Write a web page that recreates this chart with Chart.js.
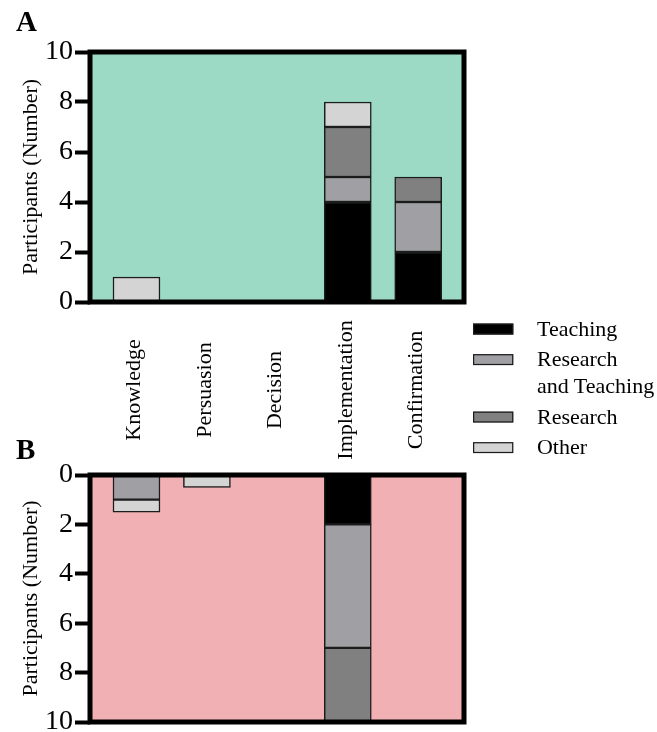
<!DOCTYPE html>
<html>
<head>
<meta charset="utf-8">
<script src="https://cdn.jsdelivr.net/npm/chart.js@4.4.1/dist/chart.umd.min.js"></script>
<style>
    html, body { margin: 0; padding: 0; background: #fff; width: 657px; height: 732px; overflow: hidden; }
    #wrap { position: relative; width: 657px; height: 732px; font-family: "Liberation Serif", serif; color: #000; }
    canvas { position: absolute; left: 0; }
    #chartA { top: 0; }
    #chartB { top: 430px; }
    .panel-tag { position: absolute; left: 16px; font-weight: bold; font-size: 29px; line-height: 29px; }
    /* legend laid out at 18px and scaled up to 22px */
    #legend { position: absolute; left: 473px; top: 315px; transform: scale(1.2222); transform-origin: 0 0; }
    .item { display: flex; align-items: flex-start; margin-bottom: 2.86px; font-size: 18px; line-height: 22.09px; white-space: nowrap; }
    .swatch { width: 32.73px; height: 9.82px; box-sizing: border-box; border: 1.64px solid #1c1c1c; margin-top: 6.55px; margin-right: 19.64px; flex: none; }
    .txt { white-space: pre-line; }
</style>
</head>
<body>
<div id="wrap">
    <canvas id="chartA" width="657" height="470"></canvas>
    <canvas id="chartB" width="657" height="312"></canvas>
    <div class="panel-tag" style="top:7px">A</div>
    <div class="panel-tag" style="top:435px">B</div>
    <div id="legend"></div>
</div>
<script>
// Categories and groups
const categories = ['Knowledge', 'Persuasion', 'Decision', 'Implementation', 'Confirmation'];
const seriesNames = ['Teaching', 'Research and Teaching', 'Research', 'Other'];
const seriesColors = ['#000000', '#a0a0a4', '#808080', '#d4d4d4'];
const yTicks = [0, 2, 4, 6, 8, 10];
const yTitle = 'Participants (Number)';

// Panel A (upwards)
const aTeaching = [0, 0, 0, 4, 2];
const aResearchTeaching = [0, 0, 0, 1, 2];
const aResearch = [0, 0, 0, 2, 1];
const aOther = [1, 0, 0, 1, 0];

// Panel B (downwards)
const bTeaching = [0, 0, 0, 2, 0];
const bResearchTeaching = [1, 0, 0, 5, 0];
const bResearch = [0, 0, 0, 3, 0];
const bOther = [0.5, 0.5, 0, 0, 0];

// text is set at 18px and scaled, the serif face renders reliably at that size
const baseFont = '18px "Liberation Serif", serif';
const BASE = 18;

function scaledText(ctx, text, x, y, size, rotate, align) {
    ctx.save();
    ctx.translate(x, y);
    if (rotate) ctx.rotate(-Math.PI / 2);
    ctx.scale(size / BASE, size / BASE);
    ctx.font = baseFont;
    ctx.fillStyle = '#000';
    ctx.textAlign = align;
    ctx.textBaseline = 'middle';
    ctx.fillText(text, 0, 0);
    ctx.restore();
}

// Fills the plot background and draws the heavy frame
const panelPlugin = {
    id: 'panel',
    beforeDraw(chart, args, opts) {
        const a = chart.chartArea;
        const ctx = chart.ctx;
        ctx.save();
        ctx.fillStyle = opts.color;
        ctx.fillRect(a.left, a.top, a.right - a.left, a.bottom - a.top);
        ctx.restore();
    },
    afterDatasetsDraw(chart) {
        const a = chart.chartArea;
        const ctx = chart.ctx;
        ctx.save();
        ctx.strokeStyle = '#000';
        ctx.lineWidth = 5;
        ctx.strokeRect(a.left, a.top, a.right - a.left, a.bottom - a.top);
        ctx.restore();
    }
};

// Y tick labels, y title and (panel A only) the rotated category names
const textPlugin = {
    id: 'serifText',
    afterDraw(chart, args, opts) {
        const ctx = chart.ctx;
        const a = chart.chartArea;
        const yScale = chart.scales.y;
        yTicks.forEach(v => {
            scaledText(ctx, String(v), a.left - 17, yScale.getPixelForValue(v), 28, false, 'right');
        });
        scaledText(ctx, yTitle, 31, (a.top + a.bottom) / 2, 22, true, 'center');

        if (!opts.showCategories) return;
        const xScale = chart.scales.x;
        categories.forEach((name, i) => {
            scaledText(ctx, name, xScale.getPixelForValue(i) - 2, a.bottom + 88, 22, true, 'center');
        });
    }
};

function makePanel(id, seriesData, bgColor, reverse, showCategories, padding) {
    return new Chart(document.getElementById(id), {
        type: 'bar',
        data: {
            labels: categories.map((_, i) => i),
            datasets: seriesData.map((values, i) => ({
                label: seriesNames[i],
                data: values,
                backgroundColor: seriesColors[i],
                borderColor: '#1c1c1c',
                borderWidth: 1.5,
                borderSkipped: false,
                barThickness: 47
            }))
        },
        options: {
            responsive: false,
            animation: false,
            layout: { padding: padding },
            scales: {
                x: {
                    type: 'linear',
                    display: false,
                    stacked: true,
                    offset: false,
                    min: -0.66,
                    max: 4.65
                },
                y: {
                    stacked: true,
                    reverse: reverse,
                    min: 0,
                    max: 10,
                    afterBuildTicks: scale => { scale.ticks = yTicks.map(v => ({ value: v })); },
                    afterFit: scale => { scale.width = 90; },
                    border: { display: false },
                    grid: {
                        drawOnChartArea: false,
                        drawTicks: true,
                        tickLength: 15,
                        tickWidth: 4,
                        tickColor: '#000'
                    },
                    ticks: { display: false },
                    title: { display: false }
                }
            },
            plugins: {
                legend: { display: false },
                tooltip: { enabled: false },
                panel: { color: bgColor },
                serifText: { showCategories: showCategories }
            }
        },
        plugins: [panelPlugin, textPlugin]
    });
}

makePanel('chartA', [aTeaching, aResearchTeaching, aResearch, aOther], '#9cdac5', false, true,
    { left: 0, right: 193, top: 52, bottom: 168 });
makePanel('chartB', [bTeaching, bResearchTeaching, bResearch, bOther], '#f1b0b3', true, false,
    { left: 0, right: 193, top: 45, bottom: 20 });

// Legend
const legend = document.getElementById('legend');
seriesNames.forEach((name, i) => {
    const item = document.createElement('div');
    item.className = 'item';
    item.innerHTML = `<span class="swatch" style="background:${seriesColors[i]}"></span><span class="txt"></span>`;
    item.querySelector('.txt').textContent = name.replace(' and ', '\nand ');
    legend.appendChild(item);
});
</script>
</body>
</html>
